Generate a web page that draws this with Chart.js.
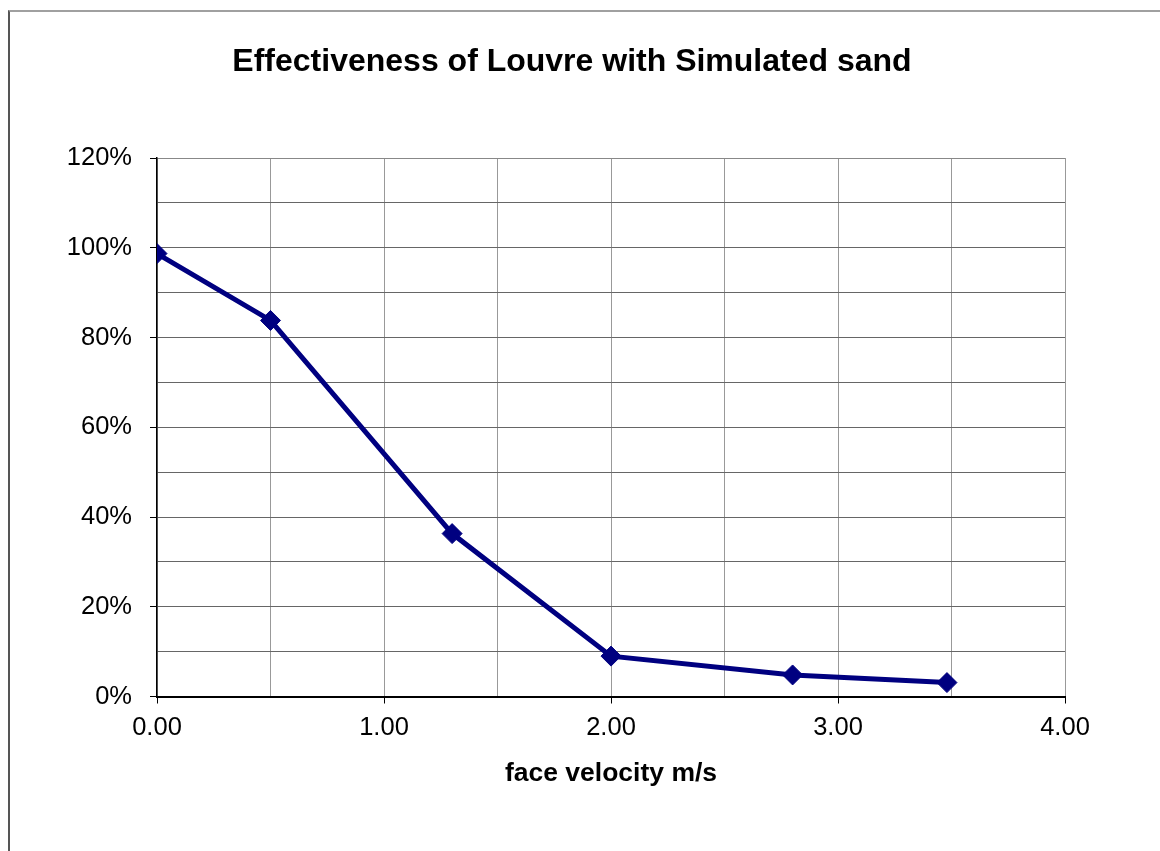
<!DOCTYPE html>
<html>
<head>
<meta charset="utf-8">
<script src="https://cdn.jsdelivr.net/npm/chart.js@4"></script>
<style>
  html, body { margin: 0; padding: 0; background: #fff; }
  #wrap { position: relative; width: 1160px; height: 851px; overflow: hidden; }
  #frame { position: absolute; left: 8px; top: 10px; width: 1200px; height: 900px;
           border-top: 2px solid #a0a0a0; border-left: 2px solid #555; }
  canvas { position: absolute; left: 0; top: 0; }
</style>
</head>
<body>
<div id="wrap">
  <div id="frame"></div>
  <canvas id="c" width="1160" height="851"></canvas>
</div>
<script>
const chartTitle = 'Effectiveness of Louvre with Simulated sand';
const xAxisTitle = 'face velocity m/s';
const faceVelocity = [0.00, 0.50, 1.30, 2.00, 2.80, 3.48];
const effectiveness = [98.7, 83.8, 36.3, 9.0, 4.8, 3.1];
const xMin = 0, xMax = 4, xStep = 0.5;
const yMin = 0, yMax = 120, yStep = 10;

const points = faceVelocity.map((x, i) => ({ x: x, y: effectiveness[i] }));
const FONT = "'Liberation Sans', Arial, sans-serif";
Chart.defaults.color = '#000';
Chart.defaults.font.family = FONT;

// centre the title over the same span as the reference (frame-based), not the canvas padding box
const titleSpan = {
  id: 'titleSpan',
  afterLayout(chart) {
    const t = chart.titleBlock;
    if (t) { t.left = 79; t.right = 1065; t.width = t.right - t.left; }
  }
};

new Chart(document.getElementById('c'), {
  type: 'line',
  data: {
    datasets: [{
      data: points,
      borderColor: '#000080',
      backgroundColor: '#000080',
      borderWidth: 5,
      tension: 0,
      pointStyle: 'rectRot',
      pointRadius: 10,
      pointHoverRadius: 10,
      pointBorderWidth: 1,
      pointBorderColor: '#000080',
      pointBackgroundColor: '#000080'
    }]
  },
  plugins: [titleSpan],
  options: {
    responsive: false,
    animation: false,
    devicePixelRatio: 1,
    layout: { padding: { left: 30, right: 95, top: 0, bottom: 54.5 } },
    plugins: {
      legend: { display: false },
      tooltip: { enabled: false },
      title: {
        display: true,
        text: chartTitle,
        color: '#000',
        font: { size: 32, weight: 'bold', family: FONT, lineHeight: 1.2 },
        padding: { top: 42.8, bottom: 76.8 }
      }
    },
    scales: {
      x: {
        type: 'linear',
        min: xMin, max: xMax,
        afterFit: s => { s.height = 100; },
        border: { color: '#000', width: 2 },
        grid: {
          color: '#999',
          lineWidth: 1,
          tickLength: 7,
          tickColor: ctx => (ctx.tick && Math.abs(ctx.tick.value - Math.round(ctx.tick.value)) < 1e-6) ? '#000' : 'rgba(0,0,0,0)'
        },
        ticks: {
          stepSize: xStep,
          autoSkip: false,
          maxRotation: 0,
          padding: 9,
          font: { size: 25.5, family: FONT },
          color: '#000',
          callback: v => Math.abs(v - Math.round(v)) < 1e-6 ? v.toFixed(2) : ''
        },
        title: {
          display: true,
          text: xAxisTitle,
          color: '#000',
          font: { size: 26.5, weight: 'bold', family: FONT },
          padding: { top: 4, bottom: 7 }
        }
      },
      y: {
        min: yMin, max: yMax,
        afterFit: s => { s.width = 127; },
        border: { color: '#000', width: 1.5 },
        grid: {
          color: ctx => (ctx.tick && ctx.tick.value === yMax) ? '#888' : '#666',
          lineWidth: 1,
          tickLength: 7,
          tickColor: ctx => (ctx.tick && Math.round(ctx.tick.value) % 20 === 0) ? '#000' : 'rgba(0,0,0,0)'
        },
        ticks: {
          stepSize: yStep,
          autoSkip: false,
          padding: 18,
          font: { size: 25.5, family: FONT },
          color: '#000',
          callback: v => Math.round(v) % 20 === 0 ? Math.round(v) + '%' : ''
        }
      }
    }
  }
});
</script>
</body>
</html>
